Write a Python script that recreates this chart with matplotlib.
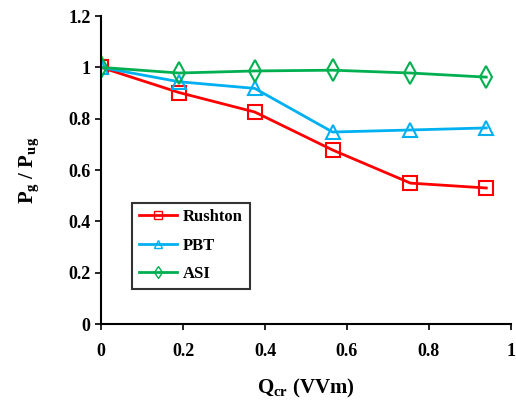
import matplotlib
matplotlib.use("Agg")
import matplotlib.pyplot as plt

# Gas flow rate (VVm) and relative power draw for each impeller
q_cr = [0.0, 0.19, 0.375, 0.565, 0.755, 0.94]
rushton = [1.0, 0.902, 0.826, 0.678, 0.549, 0.530]
pbt = [1.0, 0.944, 0.918, 0.748, 0.756, 0.764]
asi = [1.0, 0.978, 0.986, 0.989, 0.978, 0.962]

x_ticks = [0, 0.2, 0.4, 0.6, 0.8, 1]
y_ticks = [0, 0.2, 0.4, 0.6, 0.8, 1, 1.2]

plt.rcParams['font.family'] = ['Liberation Serif', 'DejaVu Serif']
plt.rcParams['font.weight'] = 'bold'
plt.rcParams['mathtext.fontset'] = 'custom'
plt.rcParams['mathtext.rm'] = 'Liberation Serif:bold'
plt.rcParams['mathtext.bf'] = 'Liberation Serif:bold'
plt.rcParams['mathtext.it'] = 'Liberation Serif:bold'

fig = plt.figure(figsize=(5.16, 4.01), dpi=100)
ax = fig.add_axes([0.196, 0.192, 0.794, 0.768])

ax.plot(q_cr, rushton, color='#FF0000', lw=2, marker='s', ms=10,
        mfc='none', mew=1.5, label='Rushton')
ax.plot(q_cr, pbt, color='#00B0F0', lw=2, marker='^', ms=10,
        mfc='none', mew=1.5, label='PBT')
ax.plot(q_cr, asi, color='#00B050', lw=2, marker='d', ms=11,
        mfc='none', mew=1.5, label='ASI')

ax.set_xlim(0, 1)
ax.set_ylim(0, 1.2)
ax.set_xticks(x_ticks)
ax.set_xticklabels(['0', '0.2', '0.4', '0.6', '0.8', '1'])
ax.set_yticks(y_ticks)
ax.set_yticklabels(['0', '0.2', '0.4', '0.6', '0.8', '1', '1.2'])
ax.tick_params(labelsize=13, direction='out', length=4, width=1.2)
ax.tick_params(axis='x', pad=10)

for s in ['top', 'right']:
    ax.spines[s].set_visible(False)
for s in ['left', 'bottom']:
    ax.spines[s].set_linewidth(1.5)

ax.set_xlabel(r'Q$_{\mathrm{cr}}$ (VVm)', fontsize=15, fontweight='bold', labelpad=12)
ax.set_ylabel(r'P$_{\mathrm{g}}$ / P$_{\mathrm{ug}}$', fontsize=15, fontweight='bold', labelpad=20)

leg = ax.legend(loc='lower left', bbox_to_anchor=(0.076, 0.114), borderaxespad=0,
                markerscale=0.55, fontsize=12, frameon=True, fancybox=False,
                edgecolor='black', handlelength=2.3, handletextpad=0.35,
                borderpad=0.4, labelspacing=0.75)
leg.get_frame().set_linewidth(1.5)
for h in leg.legend_handles:
    h.set_markeredgewidth(1.0)

fig.savefig('out.png', dpi=100)
